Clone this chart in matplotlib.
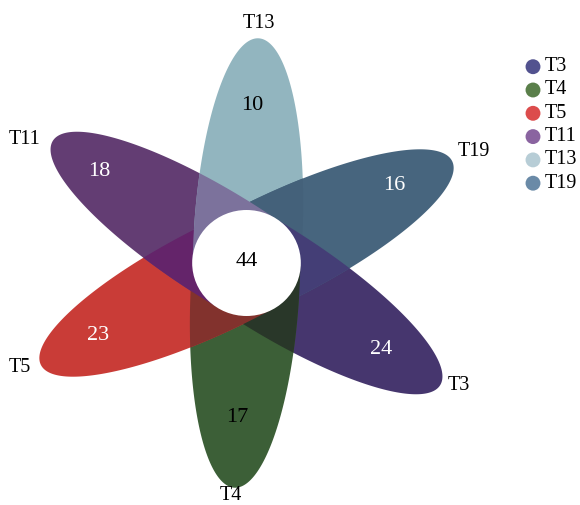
import numpy as np
import matplotlib
matplotlib.use('Agg')
import matplotlib.pyplot as plt
from matplotlib.patches import Polygon, Ellipse

# ---- data ----
sets = ['T3', 'T4', 'T5', 'T11', 'T13', 'T19']
unique_counts = [24, 17, 23, 18, 10, 16]
core_count = 44

petal_colors = ['#46366e', '#3c5f37', '#c93c37', '#633d73', '#92b5bf', '#47657e']
legend_colors = ['#52528f', '#5a7f4a', '#dc4c4c', '#8a64a0', '#b7cdd6', '#6a8aa7']
count_colors = ['white', 'black', 'white', 'white', 'black', 'white']

# neighbour overlaps (pairs of indices into sets) and their colours
overlap_pairs = [(4, 5), (5, 0), (0, 1), (1, 2), (2, 3), (3, 4)]
overlap_colors = ['#44617a', '#443e76', '#293729', '#82322d', '#64246a', '#7c729c']

# ---- layout (pixels) ----
CX, CY = 246.5, 263
SX = 1.025            # slight horizontal stretch of the original
A, B, D = 200, 53, 25  # petal semi-axes and offset from centre
R = 53
angles = [-33, -93, -153, 147, 87, 27]   # petal direction, degrees
name_pos = [(459, 385), (231, 496), (20, 368), (25, 139), (259, 23), (474, 152)]
count_pos = [(381, 350), (237, 418), (98, 336), (99, 171), (252, 106), (394, 186)]

plt.rcParams['font.family'] = ['Liberation Serif', 'DejaVu Serif']

fig = plt.figure(figsize=(5.8, 5.05), dpi=100)
ax = fig.add_axes([0, 0, 1, 1])
ax.set_xlim(0, 580)
ax.set_ylim(505, 0)
ax.axis('off')


def petal_xy(theta):
    th = np.radians(theta)
    ux, uy = np.cos(th), -np.sin(th)
    vx, vy = np.sin(th), np.cos(th)
    phi = np.linspace(-np.pi, np.pi, 1441)
    along = D + A * np.cos(phi)
    across = B * np.sin(phi)
    keep = along >= 0
    along, across = along[keep], across[keep]
    x = CX + SX * (along * ux + across * vx)
    y = CY + along * uy + across * vy
    return np.column_stack([x, y])


petals = []
for i, name in enumerate(sets):
    p = Polygon(petal_xy(angles[i]), closed=True, facecolor=petal_colors[i],
                edgecolor='none', zorder=1)
    ax.add_patch(p)
    petals.append(p)

for (i, j), col in zip(overlap_pairs, overlap_colors):
    q = Polygon(petal_xy(angles[j]), closed=True, facecolor=col,
                edgecolor='none', zorder=2)
    ax.add_patch(q)
    q.set_clip_path(petals[i])

ax.add_patch(Ellipse((CX, CY), 2 * R * SX, 2 * R, facecolor='white',
                     edgecolor='none', zorder=3))
ax.text(CX, CY - 1, str(core_count), ha='center', va='center', fontsize=16,
        color='black', zorder=4)

for i, name in enumerate(sets):
    ax.text(count_pos[i][0], count_pos[i][1], str(unique_counts[i]),
            ha='center', va='center', fontsize=16, color=count_colors[i], zorder=4)
    ax.text(name_pos[i][0], name_pos[i][1], name, ha='center', va='center',
            fontsize=14.5, color='black', zorder=4)

# legend
for i, name in enumerate(sets):
    ly = 66.7 + 23.3 * i
    ax.scatter([533], [ly], s=115, color=legend_colors[i], edgecolors='none', zorder=4)
    ax.text(545, ly, name, ha='left', va='center', fontsize=14.5, color='black')

plt.savefig('out.png', dpi=100)
